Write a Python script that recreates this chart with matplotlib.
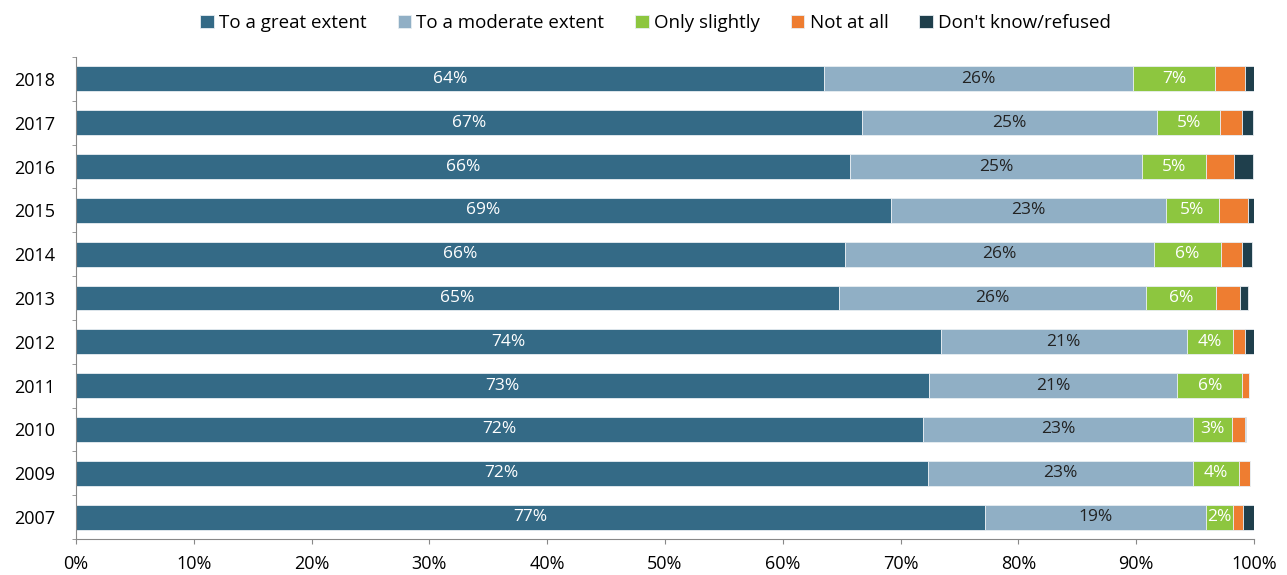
import matplotlib.pyplot as plt
import numpy as np

plt.rcParams["font.family"] = ["Open Sans", "DejaVu Sans"]

years = ["2007", "2009", "2010", "2011", "2012", "2013", "2014", "2015", "2016", "2017", "2018"]
great = [77.2, 72.3, 71.9, 72.4, 73.4, 64.8, 65.3, 69.2, 65.7, 66.7, 63.5]
moderate = [18.7, 22.5, 22.9, 21.1, 20.9, 26.0, 26.2, 23.3, 24.8, 25.1, 26.2]
slightly = [2.3, 3.9, 3.3, 5.5, 3.9, 6.0, 5.7, 4.5, 5.4, 5.3, 7.0]
not_at_all = [0.9, 1.0, 1.1, 0.6, 1.0, 2.0, 1.8, 2.5, 2.4, 1.9, 2.5]
dont_know = [0.9, 0.0, 0.1, 0.0, 0.8, 0.7, 0.8, 0.5, 1.6, 0.9, 0.8]

great_lbl = ["77%", "72%", "72%", "73%", "74%", "65%", "66%", "69%", "66%", "67%", "64%"]
moderate_lbl = ["19%", "23%", "23%", "21%", "21%", "26%", "26%", "23%", "25%", "25%", "26%"]
slightly_lbl = ["2%", "4%", "3%", "6%", "4%", "6%", "6%", "5%", "5%", "5%", "7%"]

series = [
    ("To a great extent", great, "#346a86", great_lbl, "white"),
    ("To a moderate extent", moderate, "#90afc5", moderate_lbl, "#222222"),
    ("Only slightly", slightly, "#8dc63f", slightly_lbl, "white"),
    ("Not at all", not_at_all, "#ee7d31", None, None),
    ("Don't know/refused", dont_know, "#1f3f4c", None, None),
]

fig = plt.figure(figsize=(12.87, 5.75), dpi=100)
ax = fig.add_axes([76 / 1287, 36 / 575, (1254 - 76) / 1287, (539 - 57) / 575])

y = np.arange(len(years))
left = np.zeros(len(years))
for name, vals, color, labels, tcolor in series:
    vals = np.array(vals)
    ax.barh(y, vals, left=left, height=0.57, color=color, label=name,
            edgecolor="#e8eef2", linewidth=0.6)
    if labels is not None:
        for yi, l, v, t in zip(y, left, vals, labels):
            ax.text(l + v / 2, yi, t, ha="center", va="center", color=tcolor, fontsize=12.5)
    left += vals

ax.set_xlim(0, 100)
ax.set_ylim(-0.5, 10.5)
ax.set_xticks(np.arange(0, 101, 10))
ax.set_xticklabels([f"{v}%" for v in range(0, 101, 10)], fontsize=13)
ax.set_yticks(y)
ax.set_yticklabels(years, fontsize=13)
ax.set_yticks(np.arange(-0.5, 10.6, 1), minor=True)
ax.tick_params(axis="y", which="major", length=0, pad=15)
ax.tick_params(axis="y", which="minor", length=3, color="#888888")
ax.tick_params(axis="x", length=3.5, color="#888888", pad=8)
for s in ["top", "right"]:
    ax.spines[s].set_visible(False)
ax.spines["bottom"].set_color("#888888")
ax.spines["left"].set_color("#888888")

fig.legend(loc="upper center", bbox_to_anchor=(0.5095, 1.005), ncol=5, frameon=False,
           fontsize=13.5, handlelength=0.7, handleheight=0.7, handletextpad=0.3,
           columnspacing=1.65)

fig.savefig("out.png", dpi=100)
